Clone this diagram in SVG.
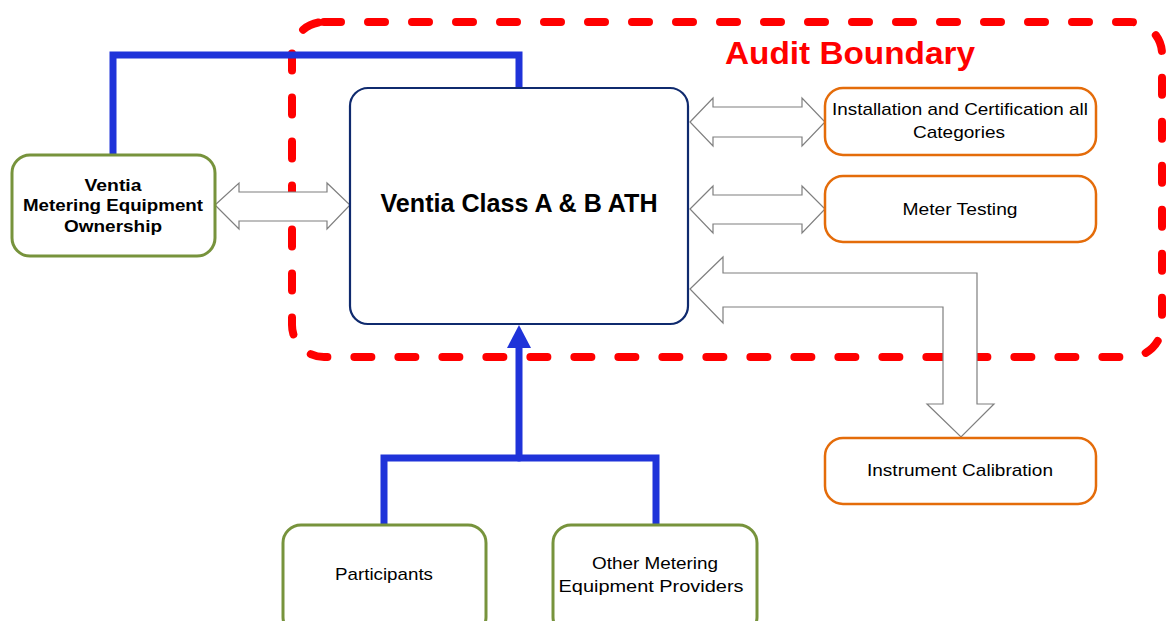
<svg xmlns="http://www.w3.org/2000/svg" width="1167" height="621" viewBox="0 0 1167 621">
<style>
.t{font-family:"Liberation Sans",Arial,sans-serif;font-size:17px;fill:#000;text-anchor:middle}
.b{font-weight:bold}
.green{fill:#fff;stroke:#77933c;stroke-width:3}
.orange{fill:#fff;stroke:#e46c0a;stroke-width:2.5}
.blk{fill:#fff;stroke:#7f7f7f;stroke-width:1.2;stroke-linejoin:miter}
.blue{fill:none;stroke:#1f33d9;stroke-width:7;stroke-linecap:round;stroke-linejoin:miter}
</style>
<rect width="1167" height="621" fill="#fff"/>
<g id="audit-boundary">
<rect x="292" y="22" width="870" height="335" rx="32" fill="none" stroke="#ff0000" stroke-width="8" stroke-linecap="round" stroke-dasharray="17 27"/>
<text x="850" y="64" class="t b" style="font-size:31px;fill:#ff0000" textLength="250" lengthAdjust="spacingAndGlyphs">Audit Boundary</text>
</g>
<g id="connectors">
<polyline class="blue" points="113,155 113,55 519,55 519,88"/>
<polyline class="blue" points="384,525 384,458 656,458 656,525"/>
<line class="blue" x1="519" y1="458" x2="519" y2="345"/>
<polygon points="519,325 507,348 531,348" fill="#1f33d9"/>
<polygon class="blk" points="215,205 239,183 239,192 327,192 327,183 350,205 327,229 327,221 239,221 239,229"/>
<polygon class="blk" points="690,122 713,98 713,107 802,107 802,98 825,122 802,146 802,137 713,137 713,146"/>
<polygon class="blk" points="690,209 713,186 713,195 802,195 802,186 825,209 802,233 802,224 713,224 713,233"/>
<polygon class="blk" points="690,289 723,257 723,273 977,273 977,404 994,404 961,437 927,404 943,404 943,307 723,307 723,323"/>
</g>
<g id="ventia-ath">
<rect x="350" y="88" width="338" height="236" rx="18" fill="#fff" stroke="#0f2a6e" stroke-width="2.2"/>
<text x="519" y="212" class="t b" style="font-size:26px" textLength="277" lengthAdjust="spacingAndGlyphs">Ventia Class A &amp; B ATH</text>
</g>
<g id="ventia-ownership">
<rect x="12" y="155" width="203" height="101" rx="18" class="green"/>
<text x="113" y="191" class="t b" textLength="57" lengthAdjust="spacingAndGlyphs">Ventia</text>
<text x="113" y="211" class="t b" textLength="180" lengthAdjust="spacingAndGlyphs">Metering Equipment</text>
<text x="113" y="232" class="t b" textLength="98" lengthAdjust="spacingAndGlyphs">Ownership</text>
</g>
<g id="installation">
<rect x="825" y="88" width="271" height="67" rx="18" class="orange"/>
<text x="960" y="115" class="t" textLength="256" lengthAdjust="spacingAndGlyphs">Installation and Certification all</text>
<text x="959" y="138" class="t" textLength="92" lengthAdjust="spacingAndGlyphs">Categories</text>
</g>
<g id="meter-testing">
<rect x="825" y="176" width="271" height="66" rx="18" class="orange"/>
<text x="960" y="215" class="t" textLength="115" lengthAdjust="spacingAndGlyphs">Meter Testing</text>
</g>
<g id="instrument-calibration">
<rect x="825" y="438" width="271" height="66" rx="18" class="orange"/>
<text x="960" y="476" class="t" textLength="186" lengthAdjust="spacingAndGlyphs">Instrument Calibration</text>
</g>
<g id="participants">
<rect x="283" y="525" width="203" height="110" rx="18" class="green"/>
<text x="384" y="580" class="t" textLength="98" lengthAdjust="spacingAndGlyphs">Participants</text>
</g>
<g id="other-providers">
<rect x="553" y="525" width="204" height="110" rx="18" class="green"/>
<text x="655" y="569" class="t" textLength="126" lengthAdjust="spacingAndGlyphs">Other Metering</text>
<text x="651" y="592" class="t" textLength="185" lengthAdjust="spacingAndGlyphs">Equipment Providers</text>
</g>
</svg>
